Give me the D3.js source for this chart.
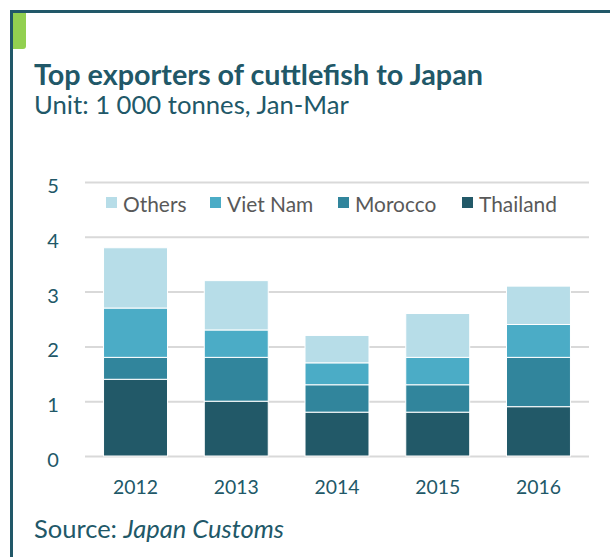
<!DOCTYPE html>
<html>
<head>
<meta charset="utf-8">
<script src="https://cdn.jsdelivr.net/npm/d3@7"></script>
<style>
  body { margin: 0; background: #fff; }
  svg { display: block; font-family: Lato, "Open Sans", sans-serif; }
</style>
</head>
<body>
<div id="graf"></div>
<script>
// data (1 000 tonnes, Jan-Mar)
const years = ['2012', '2013', '2014', '2015', '2016']
const thailand = [1.4, 1.0, 0.8, 0.8, 0.9]
const morocco = [0.4, 0.8, 0.5, 0.5, 0.9]
const vietNam = [0.9, 0.5, 0.4, 0.5, 0.6]
const others = [1.1, 0.9, 0.5, 0.8, 0.7]
const seriesNames = ['Thailand', 'Morocco', 'Viet Nam', 'Others']
const legendOrder = ['Others', 'Viet Nam', 'Morocco', 'Thailand']
const yTicks = [0, 1, 2, 3, 4, 5]

const colores = {
  'Thailand': '#225968',
  'Morocco': '#31859c',
  'Viet Nam': '#4bacc6',
  'Others': '#b7dde8'
}
const teal = '#215868'

const ancho = 610
const alto = 557
const left = 85
const right = 589

const svg = d3.select('#graf')
  .append('svg')
  .attr('width', ancho)
  .attr('height', alto)

// frame: top + left rule, green tab
svg.append('path')
  .attr('d', `M11.5,${alto} V11.5 H${ancho}`)
  .attr('fill', 'none')
  .attr('stroke', teal)
  .attr('stroke-width', 3)

svg.append('path')
  .attr('d', 'M13,13 H26 V46 Q26,49 23,49 H13 Z')
  .attr('fill', '#92d050')

// fit a text element to a target width
const fit = (sel, w) => {
  const len = sel.node().getComputedTextLength()
  const fs = parseFloat(sel.attr('font-size'))
  sel.attr('font-size', fs * w / len)
  return fs * w / len
}

const title = svg.append('text')
  .attr('x', 34).attr('y', 85)
  .attr('font-size', 24)
  .attr('font-weight', 'bold')
  .attr('fill', teal)
  .text('Top exporters of cuttlefish to Japan')
fit(title, 449)

const sub = svg.append('text')
  .attr('x', 34).attr('y', 114)
  .attr('font-size', 22)
  .attr('fill', teal)
  .text('Unit: 1 000 tonnes, Jan-Mar')
fit(sub, 315)

// scales
const x = d3.scaleBand()
  .domain(years)
  .range([left, right])
  .paddingInner(0.365)
  .paddingOuter(0.184)

const y = d3.scaleLinear()
  .domain([0, 5])
  .range([456, 182])

// gridlines via axis
const yAxis = d3.axisLeft(y)
  .tickValues(yTicks)
  .tickSize(-(right - left))
  .tickFormat(d3.format('d'))

const gy = svg.append('g')
  .attr('transform', `translate(${left},0)`)
  .call(yAxis)
gy.select('.domain').remove()
gy.selectAll('.tick line')
  .attr('stroke', '#d9d9d9')
  .attr('stroke-width', 2)
gy.selectAll('.tick text')
  .attr('fill', teal)
  .attr('font-size', 20)
  .attr('font-family', 'Lato, sans-serif')
  .attr('text-anchor', 'middle')
  .attr('x', -32)
  .attr('dy', null)
  .attr('y', 10.5)

const xAxis = d3.axisBottom(x).tickSize(0)
const gx = svg.append('g')
  .attr('transform', 'translate(0,456)')
  .call(xAxis)
gx.select('.domain').remove()
const xt = gx.selectAll('.tick text')
  .attr('fill', teal)
  .attr('font-size', 20)
  .attr('font-family', 'Lato, sans-serif')
  .attr('dy', null)
  .attr('y', 38)
const xfs = fit(d3.select(xt.nodes()[0]), 45)
xt.attr('font-size', xfs)

// stacked bars
const tabla = years.map((yr, i) => ({
  year: yr,
  'Thailand': thailand[i],
  'Morocco': morocco[i],
  'Viet Nam': vietNam[i],
  'Others': others[i]
}))
const stack = d3.stack().keys(seriesNames)(tabla)

svg.append('g')
  .selectAll('g')
  .data(stack)
  .join('g')
  .attr('fill', d => colores[d.key])
  .selectAll('rect')
  .data(d => d)
  .join('rect')
  .attr('x', d => x(d.data.year))
  .attr('y', d => y(d[1]))
  .attr('width', x.bandwidth())
  .attr('height', d => y(d[0]) - y(d[1]))
  .attr('stroke', '#fff')
  .attr('stroke-width', 1)

// legend
const legendX = [106, 210, 338, 462]
const leg = svg.append('g')
  .selectAll('g')
  .data(legendOrder)
  .join('g')
  .attr('transform', (d, i) => `translate(${legendX[i]},197)`)
leg.append('rect')
  .attr('width', 11).attr('height', 11)
  .attr('fill', d => colores[d])
const legText = leg.append('text')
  .attr('x', 17).attr('y', 15)
  .attr('font-size', 20)
  .attr('fill', '#595959')
  .text(d => d)
const lfs = fit(d3.select(legText.nodes()[3]), 78)
legText.attr('font-size', lfs)

// source
const src = svg.append('text')
  .attr('x', 34).attr('y', 538)
  .attr('font-size', 21)
  .attr('fill', teal)
src.append('tspan').text('Source: ')
src.append('tspan').attr('font-style', 'italic').text('Japan Customs')
fit(src, 250)
</script>
</body>
</html>
